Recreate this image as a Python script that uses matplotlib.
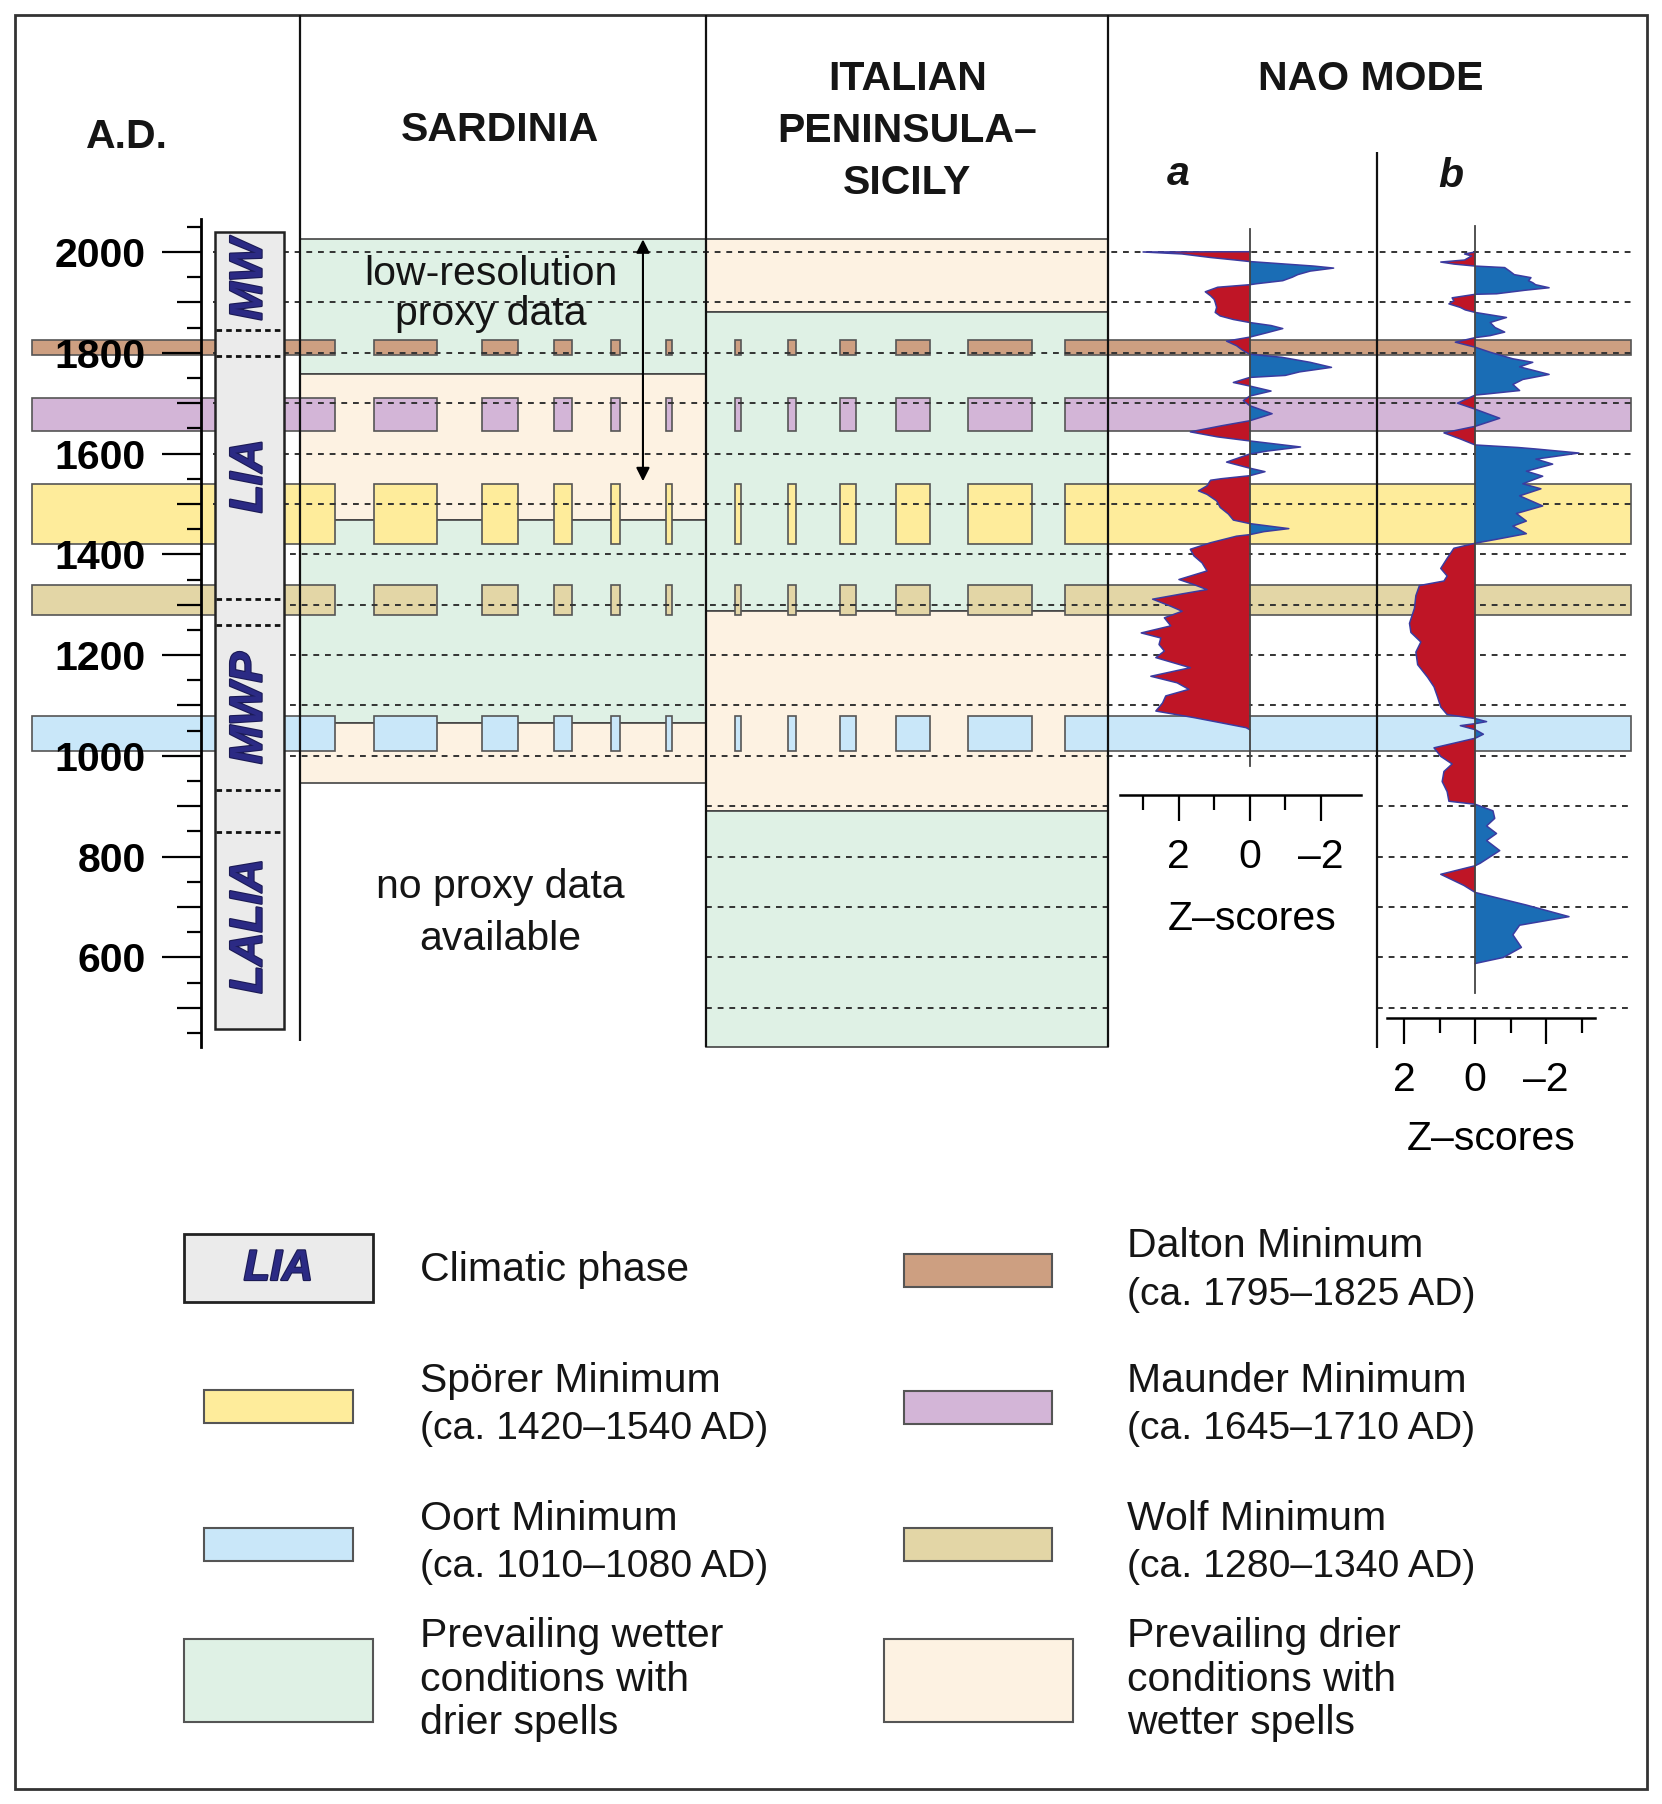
import numpy as np
import matplotlib
matplotlib.use("Agg")
import matplotlib.pyplot as plt
import matplotlib.patheffects as pe
from matplotlib.patches import Rectangle
from matplotlib.ticker import FuncFormatter, NullFormatter

plt.rcParams['font.family'] = ['Liberation Sans', 'DejaVu Sans']

# ---------------- data ----------------
YEAR_MAJOR = [600, 800, 1000, 1200, 1400, 1600, 1800, 2000]
YEAR_MID = [500, 700, 900, 1100, 1300, 1500, 1700, 1900]
YEAR_MINOR = [450, 550, 650, 750, 850, 950, 1050, 1150, 1250, 1350, 1450,
              1550, 1650, 1750, 1850, 1950, 2050]
GRID_YEARS_TOP = [2000, 1900, 1800, 1700, 1600, 1500]
GRID_YEARS_MID = [1400, 1300, 1200, 1100, 1000]
GRID_YEARS_LOW = [900, 800, 700, 600, 500]

PHASE_NAMES = ["MW", "LIA", "MWP", "LALIA"]
PHASE_LABEL_YEAR = [1945, 1555, 1095, 662]
PHASE_DIVIDERS = [1845, 1793, 1311, 1259, 932, 849]
PHASE_TOP = 2039
PHASE_BOTTOM = 459

MINIMA_NAMES = ["Dalton", "Maunder", "Spörer", "Wolf", "Oort"]
MINIMA_START = [1795, 1645, 1420, 1280, 1010]
MINIMA_END = [1825, 1710, 1540, 1340, 1080]
MINIMA_COLORS = ["#cd9f81", "#d3b5d7", "#feec9b", "#e3d6a6", "#c9e7f9"]

SARD_TOP = [2025, 1758, 1468, 1066]
SARD_BOTTOM = [1758, 1468, 1066, 946]
SARD_KIND = ["wet", "dry", "wet", "dry"]

ITAL_TOP = [2025, 1881, 1288, 890]
ITAL_BOTTOM = [1881, 1288, 890, 422]
ITAL_KIND = ["dry", "wet", "dry", "wet"]

LOWRES_TOP = 2025
LOWRES_BOTTOM = 1545

NAO_A_YEAR = [2000.5, 2000, 1996, 1989, 1984, 1981,
              1976, 1972, 1968, 1962, 1955, 1950, 1943, 1937, 1935,
              1930, 1921, 1913, 1906, 1900, 1890, 1880, 1873, 1866, 1860,
              1854, 1848, 1840, 1831,
              1823, 1814, 1805, 1797,
              1791, 1781, 1771, 1762, 1755, 1751,
              1741, 1734, 1724, 1714, 1705, 1695, 1679, 1665,
              1655, 1643, 1633, 1625,
              1613, 1605, 1599, 1583, 1571, 1564, 1556,
              1550, 1547, 1536, 1526, 1519, 1506, 1493, 1480, 1468, 1461,
              1451, 1445, 1439,
              1436, 1423, 1410, 1397, 1383, 1367, 1350, 1340, 1330, 1321,
              1311, 1297, 1287, 1274, 1258, 1244, 1234, 1221, 1208, 1195,
              1175, 1158, 1145, 1132, 1119, 1105, 1089, 1076, 1066, 1056, 1052]
NAO_A_Z = [0, 3.0, 1.9, 1.1, 0.4, 0,
           -1.0, -1.8, -2.36, -1.7, -1.35, -1.2, -0.93, -0.2, 0,
           0.9, 1.25, 1.1, 1.0, 0.97, 0.93, 0.97, 0.83, 0.46, 0,
           -0.6, -0.93, -0.5, 0,
           0.65, 0.37, 0.2, 0,
           -0.9, -1.7, -2.3, -1.4, -1.0, 0,
           0.46, 0, -0.6, 0, 0.18, 0, -0.63, 0,
           0.8, 1.67, 0.9, 0,
           -1.43, -0.5, 0, 0.65, 0, -0.43, 0,
           0.8, 1.1, 1.2, 1.44, 1.2, 0.93, 0.83, 0.6, 0.46, 0,
           -1.1, -0.4, 0,
           0.37, 1.1, 1.67, 1.57, 1.34, 1.2, 1.99, 1.57, 1.2, 1.94,
           2.73, 2.22, 1.9, 2.4, 2.22, 3.05, 2.5, 2.55, 2.4, 2.64,
           1.67, 2.78, 2.04, 1.71, 2.36, 2.45, 2.64, 1.57, 0.83, 0.1, 0]

NAO_B_YEAR = [2000, 1996, 1992, 1984, 1980, 1976, 1972,
              1969, 1962, 1955, 1949, 1943, 1939, 1935, 1929, 1924, 1917, 1916,
              1909, 1903, 1897, 1890, 1885, 1880,
              1870, 1860, 1850, 1841, 1834, 1830,
              1821, 1811,
              1801, 1788, 1781, 1772, 1757, 1747, 1737, 1725, 1718, 1716,
              1700, 1688, 1670, 1654,
              1641, 1629, 1617,
              1612, 1609, 1601, 1589, 1579, 1565, 1555, 1540, 1530, 1516,
              1496, 1481, 1466, 1456, 1441, 1431, 1422,
              1412, 1392, 1372, 1357, 1347, 1338, 1318, 1293, 1263, 1245,
              1226, 1206, 1181, 1156, 1137, 1117, 1097, 1082, 1074,
              1068, 1064, 1060, 1052, 1043, 1035,
              1016, 999, 984, 969, 949, 929, 910, 904,
              891, 876, 861, 846, 832, 812, 787, 782,
              765, 743, 729,
              704, 681, 664, 645, 620, 600, 588]
NAO_B_Z = [0, 0.3, 0.1, 0.3, 0.97, 0.6, 0,
           -0.83, -0.97, -1.1, -1.57, -1.5, -1.62, -1.7, -2.08, -1.4, -0.6, 0,
           0.65, 0.6, 0.74, 0.42, 0.28, 0,
           -0.88, -0.42, -0.56, -0.83, -0.42, 0,
           0.56, 0,
           -0.42, -1.06, -1.62, -1.25, -2.08, -1.34, -1.06, -1.25, -0.3, 0,
           0.5, 0, -0.69, 0,
           0.88, 0.42, 0,
           -1.2, -1.71, -2.92, -1.71, -2.18, -1.44, -1.9, -1.34, -1.85, -1.25,
           -1.9, -1.16, -1.44, -1.06, -1.44, -0.69, 0,
           0.6, 0.79, 0.97, 0.79, 0.88, 1.57, 1.67, 1.71, 1.85, 1.81,
           1.53, 1.67, 1.62, 1.34, 1.16, 1.06, 0.97, 0.79, 0,
           -0.32, 0, 0.42, 0, -0.23, 0,
           1.16, 0.97, 0.65, 0.88, 0.93, 0.79, 0.74, 0,
           -0.5, -0.55, -0.32, -0.6, -0.32, -0.69, -0.14, 0,
           0.97, 0.32, 0,
           -1.44, -2.64, -1.25, -1.06, -1.3, -0.79, 0]

Z_MAJOR = [2, 0, -2]
Z_MINOR_A = [3, 1, -1]
Z_MINOR_B = [1, -1, -3]

LEGEND_LEFT = [["Climatic phase"],
               ["Spörer Minimum", "(ca. 1420–1540 AD)"],
               ["Oort Minimum", "(ca. 1010–1080 AD)"],
               ["Prevailing wetter", "conditions with", "drier spells"]]
LEGEND_RIGHT = [["Dalton Minimum", "(ca. 1795–1825 AD)"],
                ["Maunder Minimum", "(ca. 1645–1710 AD)"],
                ["Wolf Minimum", "(ca. 1280–1340 AD)"],
                ["Prevailing drier", "conditions with", "wetter spells"]]

# ---------------- styles / layout ----------------
WET = "#dff1e5"
DRY = "#fdf2e2"
RED = "#bf1526"
BLUE = "#1a6db5"
EDGE_CURVE = "#3b3ba0"
NAVY = "#2b2a84"
TXT = "#151515"
FS = 29.5
PHASE_FX = [pe.withStroke(linewidth=1.6, foreground="#1b1a55")]

W, H = 1445.0, 1568.0
Y2000_PX, PX_PER_YR = 219.0, 0.438


def fx(px):
    return px / W


def fy(py):
    return 1 - py / H


def yr(py):
    return 2000 - (py - Y2000_PX) / PX_PER_YR


fig = plt.figure(figsize=(16.62, 18.04), dpi=100, facecolor="white")

# ---- year-scaled background axes ----
ax = fig.add_axes([0, 0, 1, 1], zorder=0)
ax.set_xlim(0, W)
ax.set_ylim(yr(H), yr(0))
ax.axis("off")

for t, b, k in zip(SARD_TOP, SARD_BOTTOM, SARD_KIND):
    ax.add_patch(Rectangle((261, b), 614 - 261, t - b, facecolor=WET if k == "wet" else DRY,
                           edgecolor="#444", lw=1.2, zorder=1))
for t, b, k in zip(ITAL_TOP, ITAL_BOTTOM, ITAL_KIND):
    ax.add_patch(Rectangle((614, b), 963 - 614, t - b, facecolor=WET if k == "wet" else DRY,
                           edgecolor="#444", lw=1.2, zorder=1))

SEGMENTS = [(28, 291), (325, 380), (419, 450), (482, 497), (531, 539), (579, 584),
            (639, 644), (685, 692), (730, 744), (779, 809), (842, 897), (926, 1418)]
for s, e, c in zip(MINIMA_START, MINIMA_END, MINIMA_COLORS):
    for x0, x1 in SEGMENTS:
        ax.add_patch(Rectangle((x0, s), x1 - x0, e - s, facecolor=c, edgecolor="#555",
                               lw=1.2, zorder=2))

dash = (0, (3, 3))
ax.hlines(GRID_YEARS_TOP, 185, 1418, colors="#333", lw=1.4, linestyles=dash, zorder=3)
ax.hlines(GRID_YEARS_MID, 252, 1418, colors="#333", lw=1.4, linestyles=dash, zorder=3)
ax.hlines(GRID_YEARS_LOW, 614, 963, colors="#333", lw=1.4, linestyles=dash, zorder=3)
ax.hlines(GRID_YEARS_LOW, 1197, 1418, colors="#333", lw=1.4, linestyles=dash, zorder=3)

ax.add_patch(Rectangle((187, PHASE_BOTTOM), 60, PHASE_TOP - PHASE_BOTTOM,
                       facecolor="#ebebeb", edgecolor="#222", lw=1.8, zorder=3.2))
ax.hlines(PHASE_DIVIDERS, 188, 246, colors="#111", lw=2.0, linestyles=(0, (2, 1.5)), zorder=3.5)
for name, y in zip(PHASE_NAMES, PHASE_LABEL_YEAR):
    ax.text(217, y, name, rotation=90, ha="center", va="center", fontsize=33,
            fontweight="bold", style="italic", color=NAVY, zorder=4, path_effects=PHASE_FX)

ax.annotate("", xy=(559, LOWRES_BOTTOM), xytext=(559, LOWRES_TOP),
            arrowprops=dict(arrowstyle="<|-|>", color="black", lw=1.5,
                            mutation_scale=20, shrinkA=0, shrinkB=0), zorder=4)


# ---- left year axis ----
def year_axis(show_spine):
    a = fig.add_axes([fx(175), fy(910), 0.0005, (910 - 190) / H], zorder=1)
    a.set_ylim(yr(910), yr(190))
    a.patch.set_visible(False)
    for sp in ["top", "right", "bottom"]:
        a.spines[sp].set_visible(False)
    a.spines["left"].set_visible(show_spine)
    a.spines["left"].set_linewidth(2.0)
    a.set_xticks([])
    return a

ax_y = year_axis(True)
ax_y.set_yticks(YEAR_MAJOR)
ax_y.set_yticks(YEAR_MINOR, minor=True)
ax_y.tick_params(axis="y", which="major", length=28, width=1.6, pad=12, labelsize=FS)
ax_y.tick_params(axis="y", which="minor", length=10, width=1.6)
for lbl in ax_y.get_yticklabels():
    lbl.set_fontweight("bold")
ax_y2 = year_axis(False)
ax_y2.set_yticks(YEAR_MID)
ax_y2.yaxis.set_major_formatter(NullFormatter())
ax_y2.tick_params(axis="y", which="major", length=17, width=1.6)

# ---- NAO curves ----
zfmt = FuncFormatter(lambda v, p: ("%g" % v).replace("-", "–"))


def nao_axes(x0, x1, zl, zr, ybot, years, z, minor, top_zero, bot_zero, labelpad, label_x):
    a = fig.add_axes([fx(x0), fy(ybot), fx(x1) - fx(x0), ybot / H], zorder=2)
    a.set_xlim(zl, zr)
    a.set_ylim(yr(ybot), yr(0))
    a.patch.set_visible(False)
    for sp in ["top", "right", "left"]:
        a.spines[sp].set_visible(False)
    a.spines["bottom"].set_linewidth(1.8)
    a.set_yticks([])
    y = np.array(years, dtype=float)
    zz = np.array(z, dtype=float)
    a.fill_betweenx(y, 0, zz, where=zz >= 0, interpolate=True, color=RED, lw=0, zorder=2)
    a.fill_betweenx(y, 0, zz, where=zz <= 0, interpolate=True, color=BLUE, lw=0, zorder=2)
    a.plot(zz, y, color=EDGE_CURVE, lw=1.1, zorder=3)
    a.plot([0, 0], [bot_zero, top_zero], color="#444", lw=1.3, zorder=4)
    a.set_xticks(Z_MAJOR)
    a.set_xticks(minor, minor=True)
    a.xaxis.set_major_formatter(zfmt)
    a.tick_params(axis="x", which="major", length=19, width=1.6, pad=12, labelsize=FS)
    a.tick_params(axis="x", which="minor", length=10.5, width=1.6)
    a.set_xlabel("Z–scores", fontsize=FS, labelpad=labelpad)
    a.xaxis.label.set_x(label_x)
    return a

nao_axes(974, 1183, 3.64, -3.12, 691, NAO_A_YEAR, NAO_A_Z, Z_MINOR_A, 2045, 979, 17, 0.55)
nao_axes(1206, 1387, 2.48, -3.38, 885, NAO_B_YEAR, NAO_B_Z, Z_MINOR_B, 2051, 530, 15, 0.5)

# ---- layout overlay: frame, headers, column lines, legend ----
lay = fig.add_axes([0, 0, 1, 1], zorder=3)
lay.set_xlim(0, W)
lay.set_ylim(H, 0)
lay.axis("off")
lay.patch.set_visible(False)

lay.add_patch(Rectangle((13, 13), 1419, 1542, fill=False, edgecolor="#333", lw=2))
lay.vlines(261, 13, 905, color="#111", lw=1.6)
lay.vlines([614, 963], 13, 910, color="#111", lw=1.6)
lay.vlines(1197, 132, 911, color="#111", lw=1.6)

hdr = dict(fontsize=FS, fontweight="bold", ha="center", va="center", color=TXT)
lay.text(110, 119, "A.D.", **hdr)
lay.text(435, 113, "SARDINIA", **hdr)
for t, y in zip(["ITALIAN", "PENINSULA–", "SICILY"], [69, 114, 159]):
    lay.text(789, y, t, **hdr)
lay.text(1192, 69, "NAO MODE", **hdr)
lay.text(1024, 151, "a", style="italic", **hdr)
lay.text(1261, 153, "b", style="italic", **hdr)

reg = dict(fontsize=FS, ha="center", va="center", color=TXT)
lay.text(427, 238, "low-resolution", **reg)
lay.text(427, 273, "proxy data", **reg)
lay.text(435, 771, "no proxy data", **reg)
lay.text(435, 816, "available", **reg)

# legend
box_l = [(160, 1073, 324, 1132, "#ebebeb"), (177, 1208, 307, 1237, MINIMA_COLORS[2]),
         (177, 1328, 307, 1357, MINIMA_COLORS[4]), (160, 1425, 324, 1497, WET)]
box_r = [(786, 1090, 915, 1119, MINIMA_COLORS[0]), (786, 1209, 915, 1238, MINIMA_COLORS[1]),
         (786, 1328, 915, 1357, MINIMA_COLORS[3]), (769, 1425, 933, 1497, DRY)]
for i, (x0, y0, x1, y1, c) in enumerate(box_l + box_r):
    lay.add_patch(Rectangle((x0, y0), x1 - x0, y1 - y0, facecolor=c,
                            edgecolor="#222" if i == 0 else "#555", lw=2 if i == 0 else 1.5))
lay.text(242, 1103, "LIA", fontsize=31, fontweight="bold", style="italic", color=NAVY,
         ha="center", va="center", path_effects=PHASE_FX)

line_y = [[1104], [1200, 1242], [1320, 1362], [1422, 1460, 1498]]
line_y_r = [[1083, 1126], [1200, 1242], [1320, 1362], [1422, 1460, 1498]]


def leg_text(x, y, t):
    size = 28.2 if t.startswith("(") else FS
    lay.text(x, y, t, fontsize=size, ha="left", va="center", color=TXT)

for lines, ys in zip(LEGEND_LEFT, line_y):
    for t, y in zip(lines, ys):
        leg_text(365, y, t)
for lines, ys in zip(LEGEND_RIGHT, line_y_r):
    for t, y in zip(lines, ys):
        leg_text(980, y, t)

fig.savefig("out.png", dpi=100, facecolor="white")
